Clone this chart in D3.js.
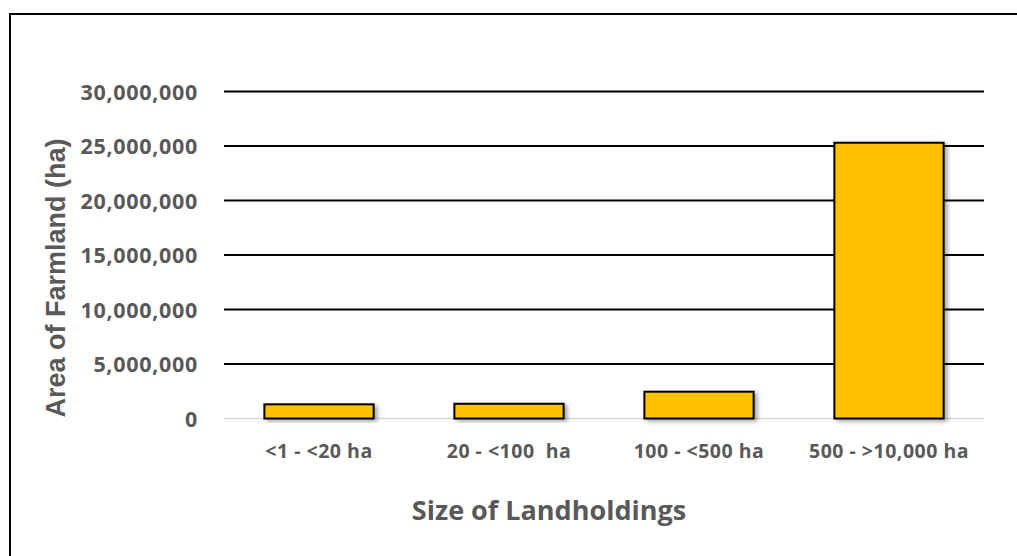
<!DOCTYPE html>
<html>
<head>
<meta charset="utf-8">
<script src="https://cdn.jsdelivr.net/npm/d3@7"></script>
<style>
  html, body { margin: 0; padding: 0; background: #fff; overflow: hidden; }
  svg { display: block; }
</style>
</head>
<body>
<svg id="chart"></svg>
<script>
const categories = ["<1 - <20 ha", "20 - <100  ha", "100 - <500 ha", "500 - >10,000 ha"];
const areaValues = [1300000, 1350000, 2460000, 25300000];
const yTicks = [0, 5000000, 10000000, 15000000, 20000000, 25000000, 30000000];

const width = 1017;
const height = 556;
const margin = { top: 91.5, right: 33, bottom: 137.5, left: 224 };
const textColor = "#595959";

const svg = d3.select("#chart")
  .attr("width", width)
  .attr("height", height);

// drop shadow for bars
const defs = svg.append("defs");
const shadow = defs.append("filter")
  .attr("id", "barShadow")
  .attr("x", "-20%").attr("y", "-20%")
  .attr("width", "150%").attr("height", "150%");
shadow.append("feDropShadow")
  .attr("dx", 3).attr("dy", 2)
  .attr("stdDeviation", 2)
  .attr("flood-color", "#000")
  .attr("flood-opacity", 0.35);

// outer chart border (only top/left visible in the picture)
svg.append("rect")
  .attr("x", 10).attr("y", 14)
  .attr("width", width + 20).attr("height", height + 20)
  .attr("fill", "none")
  .attr("stroke", "#000")
  .attr("stroke-width", 2);

const x = d3.scaleBand()
  .domain(categories)
  .range([margin.left, width - margin.right])
  .paddingInner(0.425)
  .paddingOuter(0.2125);

const y = d3.scaleLinear()
  .domain([0, 30000000])
  .range([height - margin.bottom, margin.top]);

// gridlines
svg.append("g")
  .selectAll("line")
  .data(yTicks)
  .join("line")
  .attr("x1", margin.left)
  .attr("x2", width - margin.right)
  .attr("y1", d => y(d))
  .attr("y2", d => y(d))
  .attr("stroke", d => d === 0 ? "#d9d9d9" : "#000")
  .attr("stroke-width", d => d === 0 ? 1.5 : 2);

// y axis tick labels
const yAxis = d3.axisLeft(y)
  .tickValues(yTicks)
  .tickFormat(d3.format(","))
  .tickSize(0)
  .tickPadding(0);

svg.append("g")
  .attr("transform", "translate(198,0)")
  .call(yAxis)
  .call(g => g.select(".domain").remove())
  .selectAll("text")
  .attr("fill", textColor)
  .style("font-family", "'Open Sans', sans-serif")
  .style("font-weight", "bold")
  .style("font-size", "21.5px")
  .style("letter-spacing", "0.7px")
  .attr("dy", "0.36em");

// bars
svg.append("g")
  .selectAll("rect")
  .data(areaValues)
  .join("rect")
  .attr("x", (d, i) => x(categories[i]))
  .attr("y", d => y(d))
  .attr("width", x.bandwidth())
  .attr("height", d => y(0) - y(d))
  .attr("fill", "#FFC000")
  .attr("stroke", "#000")
  .attr("stroke-width", 2)
  .attr("filter", "url(#barShadow)");

// x axis labels
const xAxis = d3.axisBottom(x).tickSize(0).tickPadding(0);
svg.append("g")
  .attr("transform", `translate(0,${y(0)})`)
  .call(xAxis)
  .call(g => g.select(".domain").remove())
  .selectAll("text")
  .attr("fill", textColor)
  .attr("y", 39.5)
  .attr("dy", 0)
  .style("font-family", "'Open Sans', sans-serif")
  .style("font-weight", "bold")
  .style("font-size", "19.5px")
  .style("letter-spacing", "0.5px")
  .style("white-space", "pre");

// axis titles
svg.append("text")
  .attr("transform", "translate(65,278) rotate(-90)")
  .attr("text-anchor", "middle")
  .attr("fill", textColor)
  .style("font-family", "'Liberation Sans', Arial, sans-serif")
  .style("font-weight", "bold")
  .style("font-size", "27px")
  .text("Area of Farmland (ha)");

svg.append("text")
  .attr("x", 549)
  .attr("y", 520)
  .attr("text-anchor", "middle")
  .attr("fill", textColor)
  .style("font-family", "'Open Sans', sans-serif")
  .style("font-weight", "bold")
  .style("font-size", "27px")
  .text("Size of Landholdings");
</script>
</body>
</html>
